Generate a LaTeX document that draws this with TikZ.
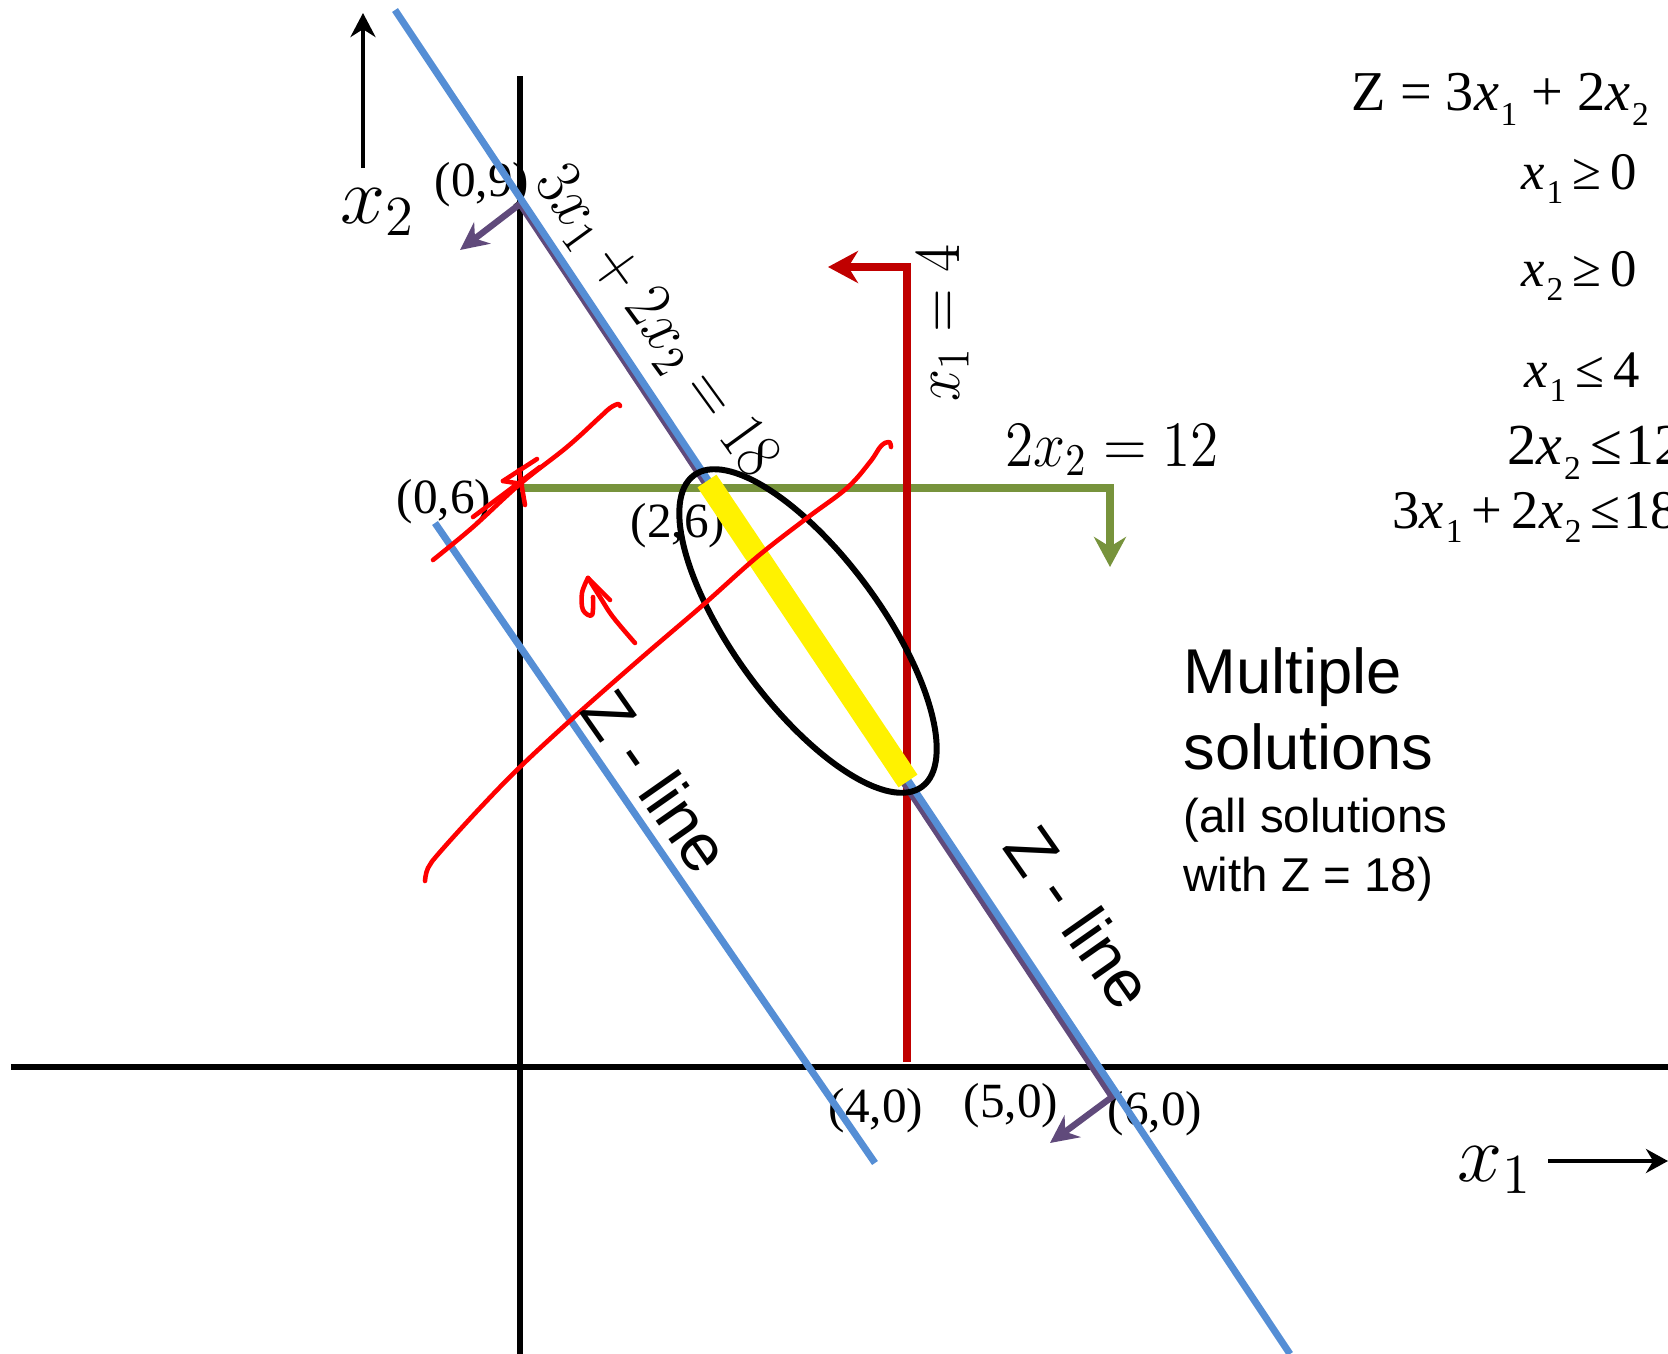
\RequirePackage{fix-cm}
\documentclass[tikz,border=0pt]{standalone}
\usepackage{fontspec}
\usepackage{graphicx}
\usetikzlibrary{positioning,arrows.meta}
\newfontfamily\tms{Liberation Serif}
\newfontfamily\arl{Liberation Sans}
\definecolor{zblue}{HTML}{558ED5}
\definecolor{boundred}{HTML}{C00000}
\definecolor{boundgreen}{HTML}{77933C}
\definecolor{boundpurple}{HTML}{604A7B}
\newcommand{\xs}[1]{\textit{x}\kern.03em\raisebox{-.27em}{\fontsize{9.5}{10}\selectfont#1}}
\newcommand{\gap}{\hspace{.17em}}
\newcommand{\tallmath}[1]{\scalebox{1}[1.13]{$#1$}}

\begin{document}
\begin{tikzpicture}[x=0.01cm, y=-0.01cm,
  ax/.style={line width=1.5pt},
  zline/.style={draw=zblue, line width=2pt},
  bound/.style={line width=2.1pt},
  scribble/.style={draw=red, line width=1.3pt, line cap=round, line join=round},
  ptlab/.style={font=\tms\fontsize{14}{16}\selectfont, inner sep=0pt},
  eqlab/.style={font=\fontsize{16.3}{19}\selectfont, inner sep=0pt},
  cons/.style={font=\tms\fontsize{15}{18}\selectfont, anchor=base west, inner sep=0pt},
  zlab/.style={font=\arl\fontsize{19}{23}\selectfont, rotate=-55, inner sep=0pt},
  sol/.style={align=left, inner sep=0pt}
]
\path[use as bounding box] (0,0) rectangle (1668,1354);

% corner point labels
\node[ptlab] (l09) at (482,185) {(0,9)};
\node[ptlab] (l06) at (444,502) {(0,6)};
\node[ptlab] (l26) at (678,526) {(2,6)};
\node[ptlab] (l40) at (876,1111) {(4,0)};
\node[ptlab] (l50) at (1011,1106) {(5,0)};
\node[ptlab] (l60) at (1155,1114) {(6,0)};

% axes
\coordinate (o) at (520,1067);
\draw[ax] (11,1067) -- (o) -- (1668,1067);
\draw[ax] (520,76) -- (o) -- (520,1354);
\node[font=\fontsize{23}{27}\selectfont, inner sep=0pt] (x2lab) at (378,212) {$x_2$};
\node[font=\fontsize{23}{27}\selectfont, inner sep=0pt] (x1lab) at (1495,1170) {$x_1$};
\draw[line width=1.2pt, -{Stealth[length=2.4mm, width=2.5mm]}] (363,168) -- (363,13);
\draw[line width=1.2pt, -{Stealth[length=2.2mm, width=2.4mm]}] (1548,1161) -- (1668,1161);

% constraint boundaries
\coordinate (p06) at (520,488);
\coordinate (p40) at (907,1062);
\draw[bound, boundgreen, -{Stealth[length=3mm, width=3.2mm]}] (p06) -- (1110,488) -- (1110,567);
\draw[bound, boundred, -{Stealth[length=3mm, width=3.2mm]}] (p40) -- (907,267) -- (828,267);
\draw[boundpurple, line width=1.8pt, {Stealth[length=2.8mm, width=2.7mm]}-{Stealth[length=2.8mm, width=2.7mm]}]
  (460,250) -- (520,204) -- (1112,1097) -- (1050,1143);

% Z-lines
\draw[zline] (395,10) -- (1290,1354);
\draw[zline] (435,523) -- (875,1163);

% optimal edge
\coordinate (p26) at (707,481);
\coordinate (p43) at (908,781);
\draw[line width=6.5pt, yellow] (p26) -- (p43);
\draw[line width=1.7pt, rotate around={-53.8:(808,631)}] (808,631) ellipse [x radius=193, y radius=74];

% hand drawn marks
\draw[scribble] plot[smooth, tension=0.6] coordinates {(425,881) (428,868) (440,852) (480,808) (520,767) (573,718) (640,659) (703,605) (757,557) (807,518) (847,488) (870,462) (881,446) (889,442) (891,447)};
\draw[scribble] plot[smooth, tension=0.6] coordinates {(433,560) (473,527) (520,484) (567,447) (600,417) (610,408) (618,404) (620,406)};
\draw[scribble] (473,517) -- (540,467);
\draw[scribble] (503,481) -- (537,459);
\draw[scribble] (503,481) -- (522,484);
\draw[scribble] (519,470) -- (525,505);
\draw[scribble] plot[smooth, tension=0.6] coordinates {(635,643) (613,617) (600,597) (588,578)};
\draw[scribble] (588,578) -- (610,600);
\draw[scribble] plot[smooth, tension=0.6] coordinates {(588,578) (582,593) (583,610) (592,615) (593,597)};

% equations of the boundaries
\node[eqlab, font=\fontsize{17}{20}\selectfont, rotate=-54] (eq18) at (655,322) {\tallmath{3x_1 + 2x_2 = 18}};
\node[eqlab, rotate=90] (eq4) at (943,323) {\tallmath{x_1 = 4}};
\node[eqlab] (eq12) at (1112,450) {\tallmath{2x_2 = 12}};

\node[zlab] (zl1) at (657,781) {Z - line};
\node[zlab] (zl2) at (1080,917) {Z - line};

% model
\node[cons, font=\tms\fontsize{16}{19}\selectfont] (obj) at (1351,110) {Z = 3\xs{1} + 2\xs{2}};
\node[cons] (c1) at (1521,189) {\xs{1}\gap≥\gap0};
\node[cons] (c2) at (1521,286) {\xs{2}\gap≥\gap0};
\node[cons] (c3) at (1524,387) {\xs{1}\gap≤\gap4};
\node[cons, font=\tms\fontsize{16.5}{19}\selectfont] (c4) at (1507,464) {2\xs{2}\gap≤\kern.05em12};
\node[cons, font=\tms\fontsize{15.5}{18}\selectfont] (c5) at (1392,528) {3\xs{1}\gap+\gap2\xs{2}\gap≤\kern.05em18};

\node[sol, anchor=north west, font=\arl\fontsize{18}{21.6}\selectfont] (mult) at (1183,647) {Multiple\\solutions};
\node[sol, font=\arl\fontsize{13.5}{16.5}\selectfont, below right=0.27cm and 0cm of mult.south west] (allsol) {(all solutions\\with Z = 18)};
\end{tikzpicture}
\end{document}
